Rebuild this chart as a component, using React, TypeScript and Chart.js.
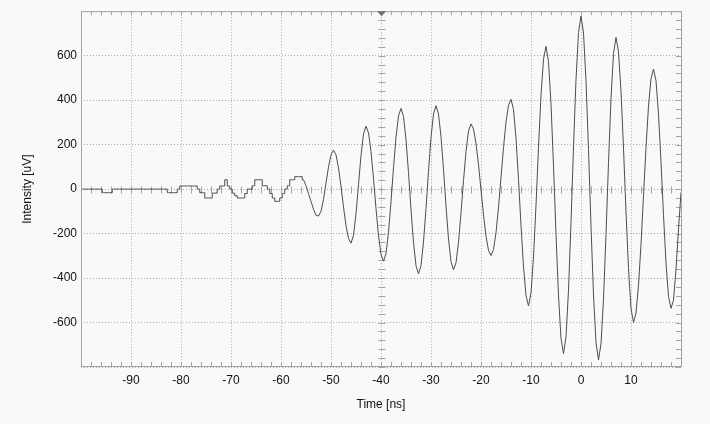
import React, { useEffect, useRef } from 'react';
import { Chart, registerables } from 'chart.js';

Chart.register(...registerables);

// Sampled trace: first sample time and spacing (ns)
const SAMPLE_START_NS = -100;
const SAMPLE_STEP_NS = 0.5;
// From this time on the trace is steep enough to be drawn as a continuous line
const BURST_START_NS = -55.5;

// Intensity [uV], one value per 0.5 ns from -100 ns to 20 ns
const intensityUv: number[] = [
  // -100.0 … -96.0
  0, 0, 0, 0, 0, 0, 0, 0, 0,
  // -95.5 … -94.0
  -16, -16, -16, -16,
  // -93.5 … -83.0
  0, 0, 0, 0, 0, 0, 0, 0, 0, 0, 0, 0, 0, 0, 0, 0, 0, 0, 0, 0, 0, 0,
  // -82.5 … -81.0
  -16, -16, -16, -16,
  // -80.5
  0,
  // -80.0 … -77.0
  14, 14, 14, 14, 14, 14, 14,
  // -76.5 … -72.0
  0, -16, -16, -40, -40, -40, -18, -18, 0, 14,
  // -71.5 … -67.0
  14, 42, 14, 0, -18, -30, -40, -40, -40, -20,
  // -66.5 … -62.0
  0, 0, 15, 42, 42, 42, 15, 15, 0, -20,
  // -61.5 … -57.0
  -40, -55, -55, -40, -20, 0, 15, 42, 42, 56,
  // -56.5 … -52.0
  56, 56, 42, 15, -20, -55, -90, -118, -121, -100,
  // -51.5 … -49.5
  -46, 27, 100, 154, 175,
  // -49.0 … -46.0
  154, 96, 13, -81, -164, -222, -243,
  // -45.5 … -43.0
  -208, -111, 20, 151, 248, 283,
  // -42.5 … -39.5
  253, 169, 47, -88, -210, -294, -324,
  // -39.0 … -36.0
  -290, -195, -57, 96, 234, 329, 363,
  // -35.5 … -32.5
  326, 223, 74, -92, -241, -344, -381,
  // -32.0 … -29.0
  -344, -238, -87, 81, 232, 338, 375,
  // -28.5 … -25.5
  338, 236, 88, -76, -224, -326, -363,
  // -25.0 … -22.0
  -331, -239, -108, 38, 169, 261, 293,
  // -21.5 … -18.0
  270, 206, 110, -3, -116, -212, -276, -299,
  // -17.5 … -14.0
  -272, -196, -82, 52, 187, 301, 377, 404,
  // -13.5 … -10.5
  358, 229, 43, -164, -350, -479, -525,
  // -10.0 … -7.0
  -467, -305, -72, 189, 422, 584, 642,
  // -6.5 … -3.5
  574, 382, 105, -203, -480, -672, -740,
  // -3.0 … 0.0
  -665, -454, -150, 189, 493, 704, 779,
  // 0.5 … 3.5
  702, 487, 178, -167, -476, -691, -768,
  // 4.0 … 7.0
  -696, -495, -205, 119, 409, 610, 682,
  // 7.5 … 10.5
  618, 440, 184, -102, -358, -537, -600,
  // 11.0 … 14.5
  -557, -433, -248, -30, 188, 373, 497, 540,
  // 15.0 … 18.0
  487, 337, 122, -118, -333, -483, -536,
  // 18.5 … 20.0
  -500, -360, -180, -15,
];

// Axis ranges and labels
const X_MIN = -100;
const X_MAX = 20;
const Y_MIN = -800;
const Y_MAX = 800;
const xTickLabels = [-90, -80, -70, -60, -50, -40, -30, -20, -10, 0, 10];
const yTickLabels = [-600, -400, -200, 0, 200, 400, 600];
const X_TITLE = 'Time [ns]';
const Y_TITLE = 'Intensity [uV]';
const TRIGGER_NS = -40;

const BG = '#f8faf8';
const FRAME = '#a4a4a4';
const GRID = '#acacac';
const TRACE = '#4d4d4d';

const bgPlugin = {
  id: 'bg',
  beforeDraw(chart: any) {
    const { ctx, width, height } = chart;
    ctx.save();
    ctx.fillStyle = BG;
    ctx.fillRect(0, 0, width, height);
    ctx.restore();
  },
};

const scopePlugin = {
  id: 'scope',
  beforeDatasetsDraw(chart: any) {
    const { ctx, chartArea: a, scales } = chart;
    const x = scales.x;
    const y = scales.y;
    const y0 = Math.round(y.getPixelForValue(0)) + 0.5;
    const xc = Math.round(x.getPixelForValue(TRIGGER_NS)) + 0.5;
    ctx.save();
    ctx.strokeStyle = FRAME;
    ctx.lineWidth = 1;
    ctx.beginPath();
    for (let v = X_MIN; v <= X_MAX; v += 2) {
      const px = Math.round(x.getPixelForValue(v)) + 0.5;
      ctx.moveTo(px, a.top);
      ctx.lineTo(px, a.top + 4);
      ctx.moveTo(px, a.bottom - 1);
      ctx.lineTo(px, a.bottom - 5);
      ctx.moveTo(px, y0 - 3);
      ctx.lineTo(px, y0 + 4);
    }
    for (let v = Y_MIN; v <= Y_MAX; v += 40) {
      const py = Math.round(y.getPixelForValue(v)) + 0.5;
      ctx.moveTo(a.right, py);
      ctx.lineTo(a.right - 5, py);
      ctx.moveTo(xc - 3, py);
      ctx.lineTo(xc + 4, py);
    }
    ctx.stroke();
    ctx.restore();
  },
  afterDraw(chart: any) {
    const { ctx, chartArea: a, scales } = chart;
    const x = scales.x;
    ctx.save();
    ctx.strokeStyle = FRAME;
    ctx.lineWidth = 1;
    ctx.strokeRect(a.left + 0.5, a.top + 0.5, a.right - a.left, a.bottom - a.top - 1);
    const xc = Math.round(x.getPixelForValue(TRIGGER_NS)) + 0.5;
    ctx.fillStyle = '#707070';
    ctx.beginPath();
    ctx.moveTo(xc - 4.5, a.top);
    ctx.lineTo(xc + 4.5, a.top);
    ctx.lineTo(xc, a.top + 5);
    ctx.closePath();
    ctx.fill();
    ctx.restore();
  },
};

export default function App() {
  const ref = useRef<HTMLCanvasElement | null>(null);

  useEffect(() => {
    const canvas = ref.current;
    if (!canvas) return;
    const points = intensityUv.map((v, i) => ({ x: SAMPLE_START_NS + i * SAMPLE_STEP_NS, y: v }));
    const quietPart = points.filter((p) => p.x <= BURST_START_NS);
    const burstPart = points.filter((p) => p.x >= BURST_START_NS);
    const font = { family: "'Liberation Sans', Arial, sans-serif", size: 12 };
    const chart = new Chart(canvas, {
      type: 'line',
      data: {
        datasets: [
          {
            data: quietPart,
            borderColor: TRACE,
            borderWidth: 1,
            pointRadius: 0,
            stepped: 'middle',
            fill: false,
          },
          {
            data: burstPart,
            borderColor: TRACE,
            borderWidth: 1,
            pointRadius: 0,
            tension: 0,
            fill: false,
          },
        ],
      },
      options: {
        animation: false,
        responsive: false,
        devicePixelRatio: 1,
        events: [],
        layout: { padding: { left: 0, top: 7, right: 29, bottom: 0 } },
        plugins: { legend: { display: false }, tooltip: { enabled: false } },
        scales: {
          x: {
            type: 'linear',
            min: X_MIN,
            max: X_MAX,
            afterFit: (s: any) => {
              s.height = 57;
            },
            afterBuildTicks: (s: any) => {
              s.ticks = [X_MIN, ...xTickLabels, X_MAX].map((v) => ({ value: v }));
            },
            ticks: {
              autoSkip: false,
              maxRotation: 0,
              padding: 6,
              color: '#111',
              font,
              callback: (v: any) => (xTickLabels.includes(Number(v)) ? String(v) : ''),
            },
            grid: { color: GRID, lineWidth: 1, drawTicks: false },
            border: { display: false, dash: [1, 2] },
            title: { display: true, text: X_TITLE, color: '#111', font, padding: { top: 0, bottom: 12 } },
          },
          y: {
            type: 'linear',
            min: Y_MIN,
            max: Y_MAX,
            afterFit: (s: any) => {
              s.width = 81;
            },
            afterBuildTicks: (s: any) => {
              s.ticks = [Y_MIN, ...yTickLabels, Y_MAX].map((v) => ({ value: v }));
            },
            ticks: {
              autoSkip: false,
              padding: 4,
              color: '#111',
              font,
              callback: (v: any) => (yTickLabels.includes(Number(v)) ? String(v) : ''),
            },
            grid: { color: GRID, lineWidth: 1, drawTicks: false },
            border: { display: false, dash: [1, 2] },
            title: { display: true, text: Y_TITLE, color: '#111', font, padding: { top: 20, bottom: 0 } },
          },
        },
      },
      plugins: [bgPlugin, scopePlugin],
    } as any);
    return () => chart.destroy();
  }, []);

  return (
    <div style={{ position: 'absolute', left: 0, top: 0, width: 710, height: 424 }}>
      <canvas ref={ref} width={710} height={424} style={{ width: 710, height: 424, display: 'block' }} />
    </div>
  );
}
